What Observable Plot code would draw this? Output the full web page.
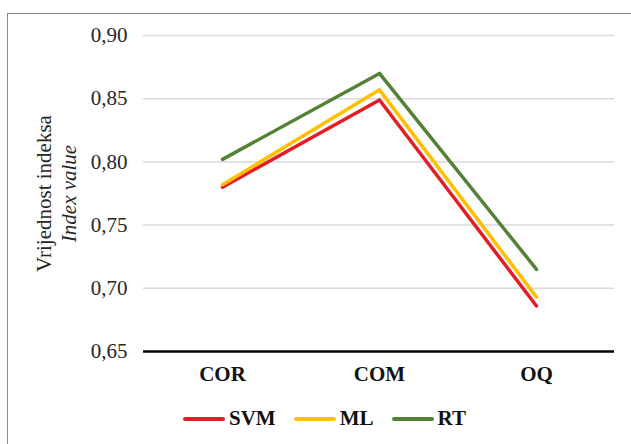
<!DOCTYPE html>
<html>
<head>
<meta charset="utf-8">
<script src="https://cdn.jsdelivr.net/npm/d3@7"></script>
<script src="https://cdn.jsdelivr.net/npm/@observablehq/plot@0.6"></script>
<style>
  html, body { margin: 0; padding: 0; background: #fff; overflow: hidden; width: 631px; height: 444px; font-family: serif; }
  #frame { position: absolute; left: 7px; top: 13px; width: 700px; height: 500px; border: 1px solid #8a8a8a; box-sizing: border-box; }
  #chart { position: absolute; left: 0; top: 0; }
  #legend { position: absolute; left: 183px; top: 406px; display: flex; align-items: center;
            font-family: serif; font-size: 21px; font-weight: bold; color: #111; }
  .sw { display: inline-block; width: 42px; height: 4px; border-radius: 2px; margin-right: 4px; }
  .item { display: flex; align-items: center; margin-right: 18px; }
  #chart svg, #chart svg text { font-family: serif !important; }
</style>
</head>
<body>
<div id="frame"></div>
<div id="chart"></div>
<div id="legend"></div>
<script>
const categories = ["COR", "COM", "OQ"];
const series = ["SVM", "ML", "RT"];
const svmValues = [0.780, 0.849, 0.686];
const mlValues = [0.782, 0.857, 0.693];
const rtValues = [0.802, 0.870, 0.715];
const colors = ["#e41d25", "#ffc000", "#548235"];
const yTicks = [0.65, 0.70, 0.75, 0.80, 0.85, 0.90];
const yTitle = ["Vrijednost indeksa", "Index value"];

const valuesBySeries = [svmValues, mlValues, rtValues];
const data = [];
series.forEach((s, i) => categories.forEach((c, j) => data.push({series: s, cat: c, value: valuesBySeries[i][j]})));

const fmt = d => d.toFixed(2).replace(".", ",");
const serif = "serif";

const chart = Plot.plot({
  width: 631,
  height: 395,
  marginLeft: 143,
  marginRight: 17,
  marginTop: 35,
  marginBottom: 44,
  style: {fontFamily: serif, fontSize: "21px", background: "transparent", color: "#262626"},
  x: {type: "point", domain: categories, padding: 0.5},
  y: {domain: [0.65, 0.90]},
  color: {domain: series, range: colors},
  marks: [
    Plot.ruleY(yTicks.slice(1), {stroke: "#d9d9d9", strokeWidth: 1.5}),
    Plot.ruleY([0.65], {stroke: "#000", strokeWidth: 2.5}),
    Plot.lineY(data, {x: "cat", y: "value", stroke: "series", z: "series", strokeWidth: 3.5}),
    Plot.axisY({ticks: yTicks, tickSize: 0, tickPadding: 16, tickFormat: fmt, label: null, fontFamily: serif}),
    Plot.axisX({tickSize: 0, tickPadding: 15, label: null, fontWeight: "bold", fill: "#111", fontFamily: serif}),
    Plot.text([yTitle[0]], {frameAnchor: "left", textAnchor: "middle", lineAnchor: "middle", rotate: -90, dx: -99, fontSize: 21, fontFamily: serif, fill: "#262626"}),
    Plot.text([yTitle[1]], {frameAnchor: "left", textAnchor: "middle", lineAnchor: "middle", rotate: -90, dx: -74, fontSize: 21, fontFamily: serif, fontStyle: "italic", fill: "#262626"})
  ]
});
document.getElementById("chart").appendChild(chart);

const legend = document.getElementById("legend");
series.forEach((s, i) => {
  const item = document.createElement("span");
  item.className = "item";
  const sw = document.createElement("span");
  sw.className = "sw";
  sw.style.background = colors[i];
  item.appendChild(sw);
  item.appendChild(document.createTextNode(s));
  legend.appendChild(item);
});
</script>
</body>
</html>
